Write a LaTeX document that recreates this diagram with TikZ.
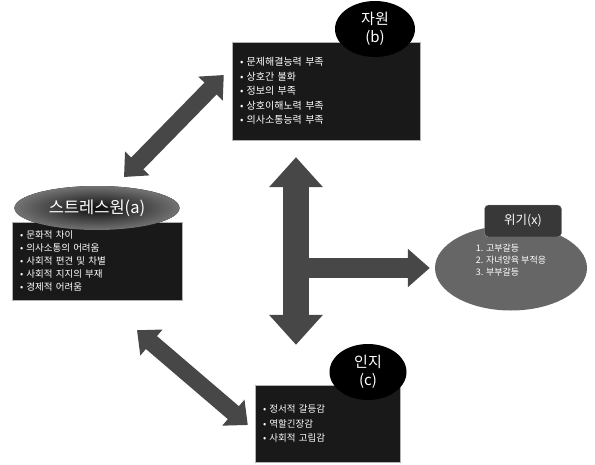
\documentclass[tikz,border=0pt]{standalone}
\usepackage{fontspec}
\setmainfont{Noto Sans CJK KR}
\usetikzlibrary{arrows.meta,shapes.geometric}

\tikzset{
  listbox/.style={rectangle,fill=black!90,draw=gray!60,text=white,align=left,inner xsep=8pt,inner ysep=0pt},
  title/.style={ellipse,fill=black,text=white,align=center,inner sep=0pt},
  fat/.style={draw=black!72,line width=#1}
}

\begin{document}
\begin{tikzpicture}[x=1pt,y=-1pt]
  \useasboundingbox (0,0) rectangle (595,464);

  % the three boxes
  \node[listbox,minimum width=188pt,minimum height=98pt,text width=172pt,
        font=\fontsize{10}{14.5}\selectfont] (resbox) at (326,91)
    {• 문제해결능력 부족\\• 상호간 불화\\• 정보의 부족\\• 상호이해노력 부족\\• 의사소통능력 부족};
  \node[listbox,minimum width=170pt,minimum height=78pt,text width=154pt,
        font=\fontsize{9.5}{13}\selectfont] (stressbox) at (97,261)
    {• 문화적 차이\\• 의사소통의 어려움\\• 사회적 편견 및 차별\\• 사회적 지지의 부재\\• 경제적 어려움};
  \node[listbox,minimum width=145pt,minimum height=77pt,text width=129pt,
        font=\fontsize{9.5}{14.5}\selectfont] (cogbox) at (327.5,423.5)
    {• 정서적 갈등감\\• 역할긴장감\\• 사회적 고립감};

  % titles
  \node[title,minimum width=80pt,minimum height=56pt,font=\fontsize{15}{18}\selectfont] (resname) at (375,29) {자원\\(b)};
  \node[title,minimum width=165pt,minimum height=44pt,shading=radial,inner color=black!95,outer color=black!55,
        font=\fontsize{16.5}{19}\selectfont] (stressname) at (97,208) {스트레스원(a)};
  \node[title,minimum width=77pt,minimum height=56pt,font=\fontsize{15}{18}\selectfont] (cogname) at (368,372) {인지\\(c)};

  % crisis
  \node[ellipse,fill=black!60,text=white,align=left,minimum width=152pt,minimum height=85pt,inner sep=0pt,
        font=\fontsize{9}{12}\selectfont] (crisis) at (511,268)
    {1. 고부갈등\\2. 자녀양육 부적응\\3. 부부갈등\\[4pt]};
  \node[rectangle,rounded corners=4pt,fill=black!78,draw=black!40,text=white,minimum width=77pt,minimum height=32pt,
        font=\fontsize{12.5}{14}\selectfont] (crisisname) at (523,221) {위기(x)};

  % arrows
  \coordinate (hub) at (296,268);
  \draw[fat=17pt,{Triangle[length=19pt,width=33pt]}-{Triangle[length=19pt,width=33pt]}]
    ([xshift=27pt,yshift=31pt]stressname.center) -- ([xshift=-8pt,yshift=16pt]resbox.west);
  \draw[fat=17pt,{Triangle[length=19pt,width=33pt]}-{Triangle[length=19pt,width=33pt]}]
    ([xshift=40pt,yshift=-30pt]stressbox.south) -- ([xshift=-7pt,yshift=-1.5pt]cogbox.west);
  \draw[fat=26pt,{Triangle[length=30pt,width=52pt]}-{Triangle[length=30pt,width=52pt]}]
    ([xshift=-30pt,yshift=-17pt]resbox.south) -- ([xshift=-72pt,yshift=-1pt]cogname.north);
  \draw[fat=20pt,-{Triangle[length=22pt,width=37pt]}]
    (hub) -- ([xshift=-5pt]crisis.west);
\end{tikzpicture}
\end{document}
